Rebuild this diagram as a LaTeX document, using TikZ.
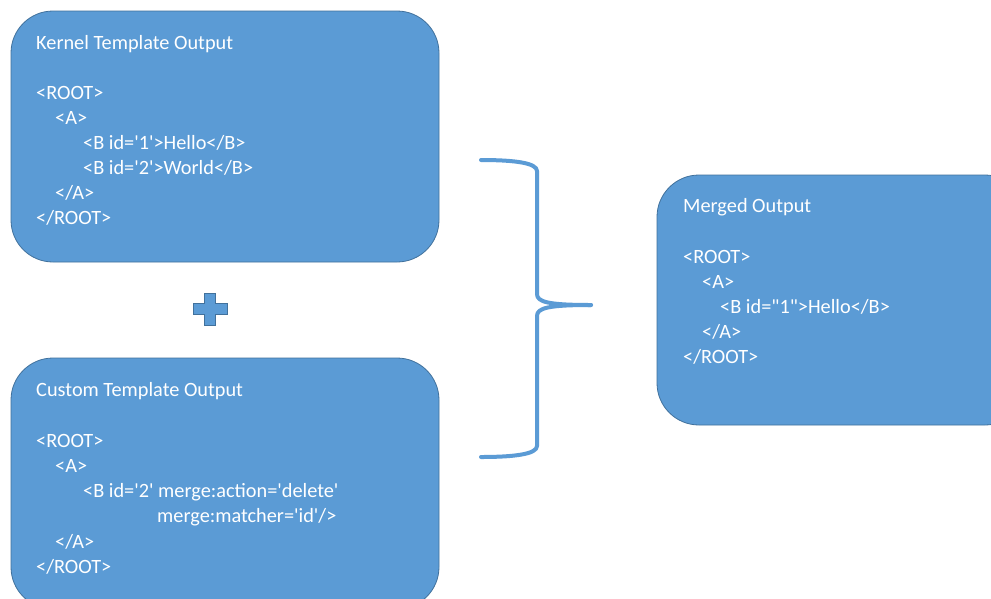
\documentclass[tikz,border=0pt]{standalone}
\usepackage{fontspec}
\setmainfont{Carlito}
\definecolor{boxfill}{HTML}{5B9BD5}
\definecolor{boxline}{HTML}{41719C}
\newcommand{\sq}{\textquotesingle}
\newcommand{\dq}{\textquotedbl}
\begin{document}
\begin{tikzpicture}[x=1pt,y=-1pt,
  panel/.style={draw=boxline, line width=0.8pt, fill=boxfill, rounded corners=42pt, inner sep=0pt},
  txt/.style={anchor=west, text=white, inner sep=0pt, font=\fontsize{20.3}{24}\selectfont},
  bracket/.style={draw=boxfill, line width=4pt, line cap=round, line join=round}]
\useasboundingbox (0,0) rectangle (991,598);
\fill[white] (0,0) rectangle (991,598);
% boxes
\node[panel, minimum width=428pt, minimum height=251pt] (kernel) at (225,136.5) {};
\node[panel, minimum width=428pt, minimum height=251pt] (custom) at (225,483.5) {};
\node[panel, minimum width=370pt, minimum height=250pt] (merged) at (842,300) {};
% kernel text
\node[txt] (k0) at (36,44) {Kernel Template Output};
\node[txt] (k1) at (36,93) {<ROOT>};
\node[txt] (k2) at (55,118) {<A>};
\node[txt] (k3) at (83,143) {<B id=\sq1\sq>Hello</B>};
\node[txt] (k4) at (83,168) {<B id=\sq2\sq>World</B>};
\node[txt] (k5) at (55,193) {</A>};
\node[txt] (k6) at (36,218) {</ROOT>};
% custom text
\node[txt] (c0) at (36,391) {Custom Template Output};
\node[txt] (c1) at (36,441) {<ROOT>};
\node[txt] (c2) at (55,466) {<A>};
\node[txt] (c3) at (83,492) {<B id=\sq2\sq{} merge:action=\sq delete\sq};
\node[txt] (c4) at (157,517) {merge:matcher=\sq id\sq/>};
\node[txt] (c5) at (55,542) {</A>};
\node[txt] (c6) at (36,567) {</ROOT>};
% merged text
\node[txt] (m0) at (683,207) {Merged Output};
\node[txt] (m1) at (683,257) {<ROOT>};
\node[txt] (m2) at (702,282) {<A>};
\node[txt] (m3) at (720,307) {<B id=\dq1\dq>Hello</B>};
\node[txt] (m4) at (702,332) {</A>};
\node[txt] (m5) at (683,357) {</ROOT>};
% plus sign
\filldraw[fill=boxfill, draw=boxline, line width=0.5pt]
  (204.5,293) -- (215.5,293) -- (215.5,303.5) -- (227,303.5) -- (227,314.5) -- (215.5,314.5)
  -- (215.5,325) -- (204.5,325) -- (204.5,314.5) -- (193,314.5) -- (193,303.5) -- (204.5,303.5) -- cycle;
% brace
\coordinate (btop) at (481,160);
\coordinate (bbot) at (481,457);
\coordinate (btip) at (591,305);
\draw[bracket] (btop) .. controls (515,160) and (537,163) .. (537,171)
  -- (537,294) .. controls (537,302) and (548,305) .. (btip);
\draw[bracket] (btip) .. controls (548,305) and (537,308) .. (537,316)
  -- (537,446) .. controls (537,454) and (515,457) .. (bbot);
\end{tikzpicture}
\end{document}
